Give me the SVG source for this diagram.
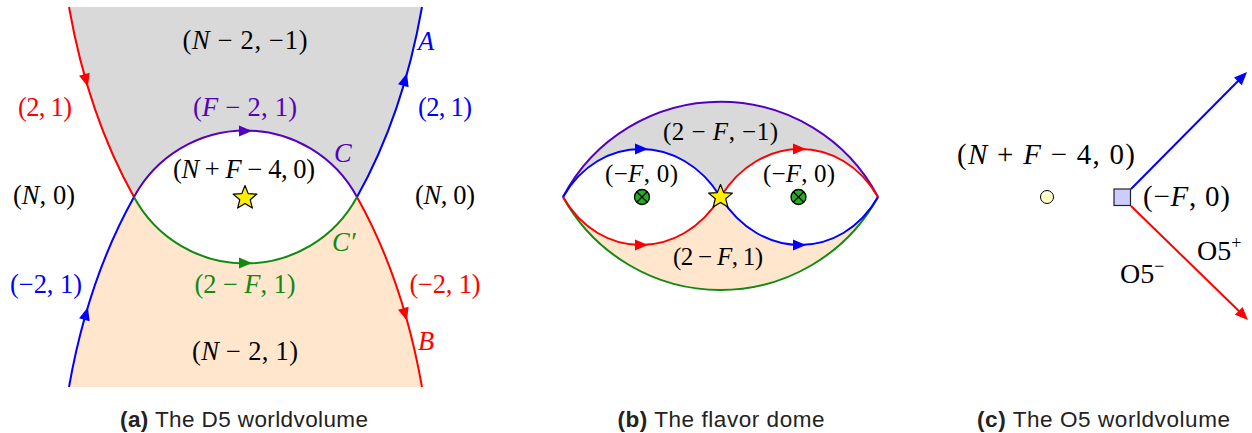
<svg xmlns="http://www.w3.org/2000/svg" xmlns:xlink="http://www.w3.org/1999/xlink" width="1252" height="433" viewBox="0 0 1252 433">
<style>
.m{font-family:"Liberation Serif","Times New Roman",serif;font-size:26.5px;}
.mb{font-family:"Liberation Serif","Times New Roman",serif;font-size:25px;}
.mc{font-family:"Liberation Serif","Times New Roman",serif;font-size:29px;}
.o5{font-family:"Liberation Serif","Times New Roman",serif;font-size:28px;}
.i{font-style:italic;}
.cap{font-family:"Liberation Sans",Arial,sans-serif;font-size:22.5px;fill:#222;}
.b{font-weight:bold;}
.ln{fill:none;stroke-width:2;}
.red{stroke:#ff0000;} .blue{stroke:#0000ff;} .pur{stroke:#5500c0;} .grn{stroke:#128a12;}
.fred{fill:#ff0000;} .fblue{fill:#0000ff;} .fpur{fill:#5500c0;} .fgrn{fill:#128a12;}
</style>
<defs>
<path id="ah" d="M7,0 L-6,-5.5 L-6,5.5 Z"/>
<polygon id="star" points="0,-12.5 3.2,-4.4 11.89,-3.86 5.2,1.7 7.35,10.11 0,5.5 -7.35,10.11 -5.2,1.7 -11.89,-3.86 -3.2,-4.4" fill="#ffee00" stroke="#000" stroke-width="1.2" stroke-linejoin="round"/>
<g id="otimes">
<circle r="7.5" fill="#22b022" stroke="#000" stroke-width="1.3"/>
<path d="M-5.3,-5.3 L5.3,5.3 M-5.3,5.3 L5.3,-5.3" stroke="#000" stroke-width="1.3"/>
</g>
</defs>

<!-- Panel (a) -->
<g id="a-regions">
<path d="M69,7 Q88,115 134,197 A126.7,126.7 0 0 1 357,197 Q403,115 422,7 Z" fill="#d9d9d9"/>
<path d="M69,387 Q88,279 134,197 A126.7,126.7 0 0 0 357,197 Q403,279 422,387 Z" fill="#ffe6cc"/>
</g>
<g id="a-connectors">
<path class="ln red" d="M69,7 Q88,115 134,197"/>
<path class="ln blue" d="M422,7 Q403,115 357,197"/>
<path class="ln blue" d="M69,387 Q88,279 134,197"/>
<path class="ln red" d="M422,387 Q403,279 357,197"/>
<path class="ln pur" d="M134,197 A126.7,126.7 0 0 1 357,197"/>
<path class="ln grn" d="M134,197 A126.7,126.7 0 0 0 357,197"/>
<use xlink:href="#ah" class="fred" transform="translate(86,80) rotate(74.2)"/>
<use xlink:href="#ah" class="fblue" transform="translate(405,80) rotate(-74.2)"/>
<use xlink:href="#ah" class="fblue" transform="translate(86,314) rotate(-74.2)"/>
<use xlink:href="#ah" class="fred" transform="translate(405,314) rotate(74.2)"/>
<use xlink:href="#ah" class="fpur" transform="translate(245,131)"/>
<use xlink:href="#ah" class="fgrn" transform="translate(245,263)"/>
</g>
<g id="a-star"><use xlink:href="#star" transform="translate(245,198)"/></g>
<g id="a-labels">
<text class="m" x="245" y="49" text-anchor="middle" textLength="125" lengthAdjust="spacing">(<tspan class="i">N</tspan> − 2, −1)</text>
<text class="m" x="45" y="116" text-anchor="middle" fill="#ff0000" textLength="54" lengthAdjust="spacing">(2, 1)</text>
<text class="m i" x="418" y="50" fill="#0000ff">A</text>
<text class="m" x="445" y="116" text-anchor="middle" fill="#0000ff" textLength="54" lengthAdjust="spacing">(2, 1)</text>
<text class="m" x="245" y="116" text-anchor="middle" fill="#5500c0" textLength="104" lengthAdjust="spacing">(<tspan class="i">F</tspan> − 2, 1)</text>
<text class="m i" x="334" y="162" fill="#5500c0">C</text>
<text class="m" x="244" y="177.5" text-anchor="middle" textLength="142" lengthAdjust="spacing">(<tspan class="i">N</tspan> + <tspan class="i">F</tspan> − 4, 0)</text>
<text class="m" x="44" y="204" text-anchor="middle" textLength="62" lengthAdjust="spacing">(<tspan class="i">N</tspan>, 0)</text>
<text class="m" x="445" y="204" text-anchor="middle" textLength="60" lengthAdjust="spacing">(<tspan class="i">N</tspan>, 0)</text>
<text class="m i" x="332" y="251" fill="#128a12">C′</text>
<text class="m" x="245" y="293" text-anchor="middle" fill="#128a12" textLength="101" lengthAdjust="spacing">(2 − <tspan class="i">F</tspan>, 1)</text>
<text class="m" x="46" y="293" text-anchor="middle" fill="#0000ff" textLength="72" lengthAdjust="spacing">(−2, 1)</text>
<text class="m" x="445" y="293" text-anchor="middle" fill="#ff0000" textLength="71" lengthAdjust="spacing">(−2, 1)</text>
<text class="m i" x="418" y="350" fill="#ff0000">B</text>
<text class="m" x="245" y="360" text-anchor="middle" textLength="106" lengthAdjust="spacing">(<tspan class="i">N</tspan> − 2, 1)</text>
</g>
<text class="cap" x="244" y="427" text-anchor="middle" textLength="248" lengthAdjust="spacing"><tspan class="b">(a)</tspan> The D5 worldvolume</text>

<!-- Panel (b) -->
<g id="b-regions">
<path d="M563,197 A177.8,177.8 0 0 1 878,197 C841,133 760,133 720.5,197 C681,133 600,133 563,197 Z" fill="#d9d9d9"/>
<path d="M563,197 A179.9,179.9 0 0 0 878,197 C841,261 760,261 720.5,197 C681,261 600,261 563,197 Z" fill="#ffe6cc"/>
</g>
<g id="b-connectors">
<path class="ln grn" d="M563,197 A179.9,179.9 0 0 0 878,197"/>
<path class="ln pur" d="M563,197 A177.8,177.8 0 0 1 878,197"/>
<path class="ln blue" d="M563,197 C600,133 681,133 720.5,197 C760,261 841,261 878,197"/>
<path class="ln red" d="M563,197 C600,261 681,261 720.5,197 C760,133 841,133 878,197"/>
<use xlink:href="#ah" class="fblue" transform="translate(641,149)"/>
<use xlink:href="#ah" class="fred" transform="translate(799,149)"/>
<use xlink:href="#ah" class="fred" transform="translate(641,245)"/>
<use xlink:href="#ah" class="fblue" transform="translate(799,245)"/>
</g>
<g id="b-flavor-left"><use xlink:href="#otimes" transform="translate(642,197)"/></g>
<g id="b-flavor-right"><use xlink:href="#otimes" transform="translate(798.5,197)"/></g>
<g id="b-star"><use xlink:href="#star" transform="translate(720.5,197)"/></g>
<g id="b-labels">
<text class="mb" x="720.5" y="140" text-anchor="middle" textLength="115" lengthAdjust="spacing">(2 − <tspan class="i">F</tspan>, −1)</text>
<text class="mb" x="641.5" y="182" text-anchor="middle" textLength="73" lengthAdjust="spacing">(−<tspan class="i">F</tspan>, 0)</text>
<text class="mb" x="799" y="182" text-anchor="middle" textLength="72" lengthAdjust="spacing">(−<tspan class="i">F</tspan>, 0)</text>
<text class="mb" x="718" y="265" text-anchor="middle" textLength="90" lengthAdjust="spacing">(2 − <tspan class="i">F</tspan>, 1)</text>
</g>
<text class="cap" x="721" y="427" text-anchor="middle" textLength="207" lengthAdjust="spacing"><tspan class="b">(b)</tspan> The flavor dome</text>

<!-- Panel (c) -->
<g id="c-connectors">
<path class="ln blue" d="M1131,189 L1243,76"/>
<path class="ln red" d="M1131,206 L1244,316"/>
<use xlink:href="#ah" class="fblue" transform="translate(1242.1,77) rotate(-45.2)"/>
<use xlink:href="#ah" class="fred" transform="translate(1243,315.1) rotate(44.5)"/>
</g>
<g id="c-circle"><circle cx="1047" cy="197" r="6.5" fill="#ffffcc" stroke="#000" stroke-width="1"/></g>
<g id="c-square"><rect x="1114" y="189" width="16.5" height="16.5" fill="#ccccff" stroke="#222" stroke-width="1.2"/></g>
<g id="c-labels">
<text class="mc" x="1046" y="163.5" text-anchor="middle" textLength="178" lengthAdjust="spacing">(<tspan class="i">N</tspan> + <tspan class="i">F</tspan> − 4, 0)</text>
<text class="mc" x="1186.5" y="205.5" text-anchor="middle" textLength="87" lengthAdjust="spacing">(−<tspan class="i">F</tspan>, 0)</text>
<text class="o5" x="1197" y="260">O5<tspan font-size="18" dy="-11">+</tspan></text>
<text class="o5" x="1120" y="283">O5<tspan font-size="18" dy="-11">−</tspan></text>
</g>
<text class="cap" x="1103.5" y="427" text-anchor="middle" textLength="253" lengthAdjust="spacing"><tspan class="b">(c)</tspan> The O5 worldvolume</text>
</svg>
